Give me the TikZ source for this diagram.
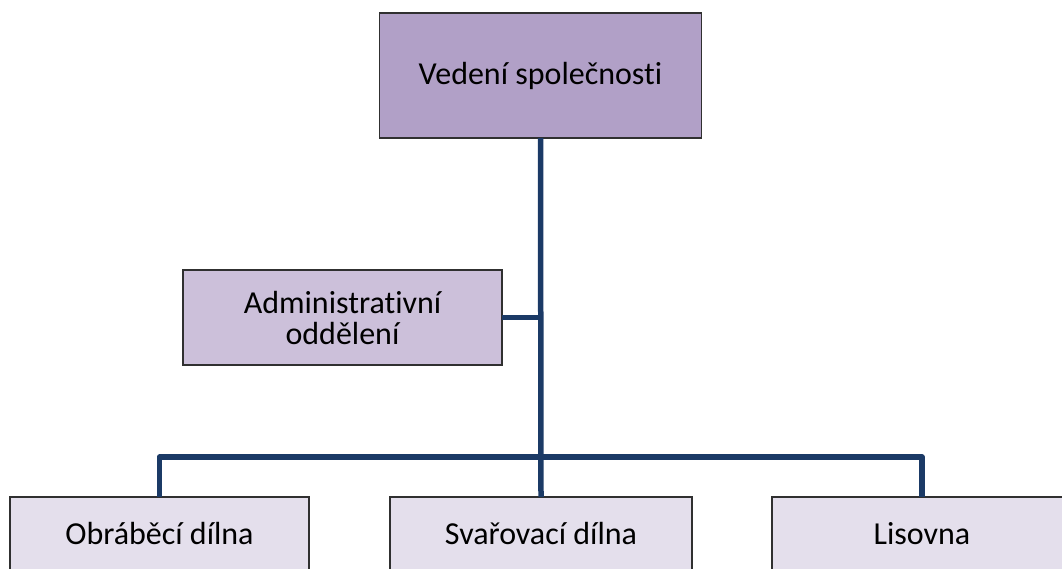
\documentclass[tikz,border=0pt]{standalone}
\usepackage{fontspec}
\setmainfont[Ligatures=NoCommon]{Carlito}
\definecolor{topfill}{HTML}{B1A0C7}
\definecolor{midfill}{HTML}{CCC0DA}
\definecolor{lowfill}{HTML}{E4DFEC}
\definecolor{linkcol}{HTML}{1B3A66}
\definecolor{edgecol}{HTML}{303030}
\begin{document}
\begin{tikzpicture}[x=1pt,y=-1pt,
  box/.style={draw=edgecol, line width=1.2pt, inner sep=0pt, outer sep=0pt, align=center, text=black, font=\fontsize{32}{31}\selectfont},
  link/.style={draw=linkcol, line width=5.5pt, line join=round}]
\useasboundingbox (0,0) rectangle (1062,569);
\clip (0,0) rectangle (1062,569);
\node[box, fill=topfill, minimum width=322pt, minimum height=125pt] (top) at (540.5,75.5) {Vedení společnosti};
\node[box, fill=midfill, minimum width=319pt, minimum height=95pt] (adm) at (342.5,317.5) {Administrativní\\oddělení};
\node[box, fill=lowfill, minimum width=299pt, minimum height=74pt] (b1) at (159.5,534) {Obráběcí dílna};
\node[box, fill=lowfill, minimum width=302pt, minimum height=74pt] (b2) at (541,534) {Svařovací dílna};
\node[box, fill=lowfill, minimum width=300pt, minimum height=74pt] (b3) at (922,534) {Lisovna};
\coordinate (bus) at (541,457);
\draw[link] (top.south) -- (b2.north);
\draw[link] (adm.east) -- (adm.east -| top.south);
\draw[link] (b1.north) -- (b1.north |- bus) -- (b3.north |- bus) -- (b3.north);
\end{tikzpicture}
\end{document}
